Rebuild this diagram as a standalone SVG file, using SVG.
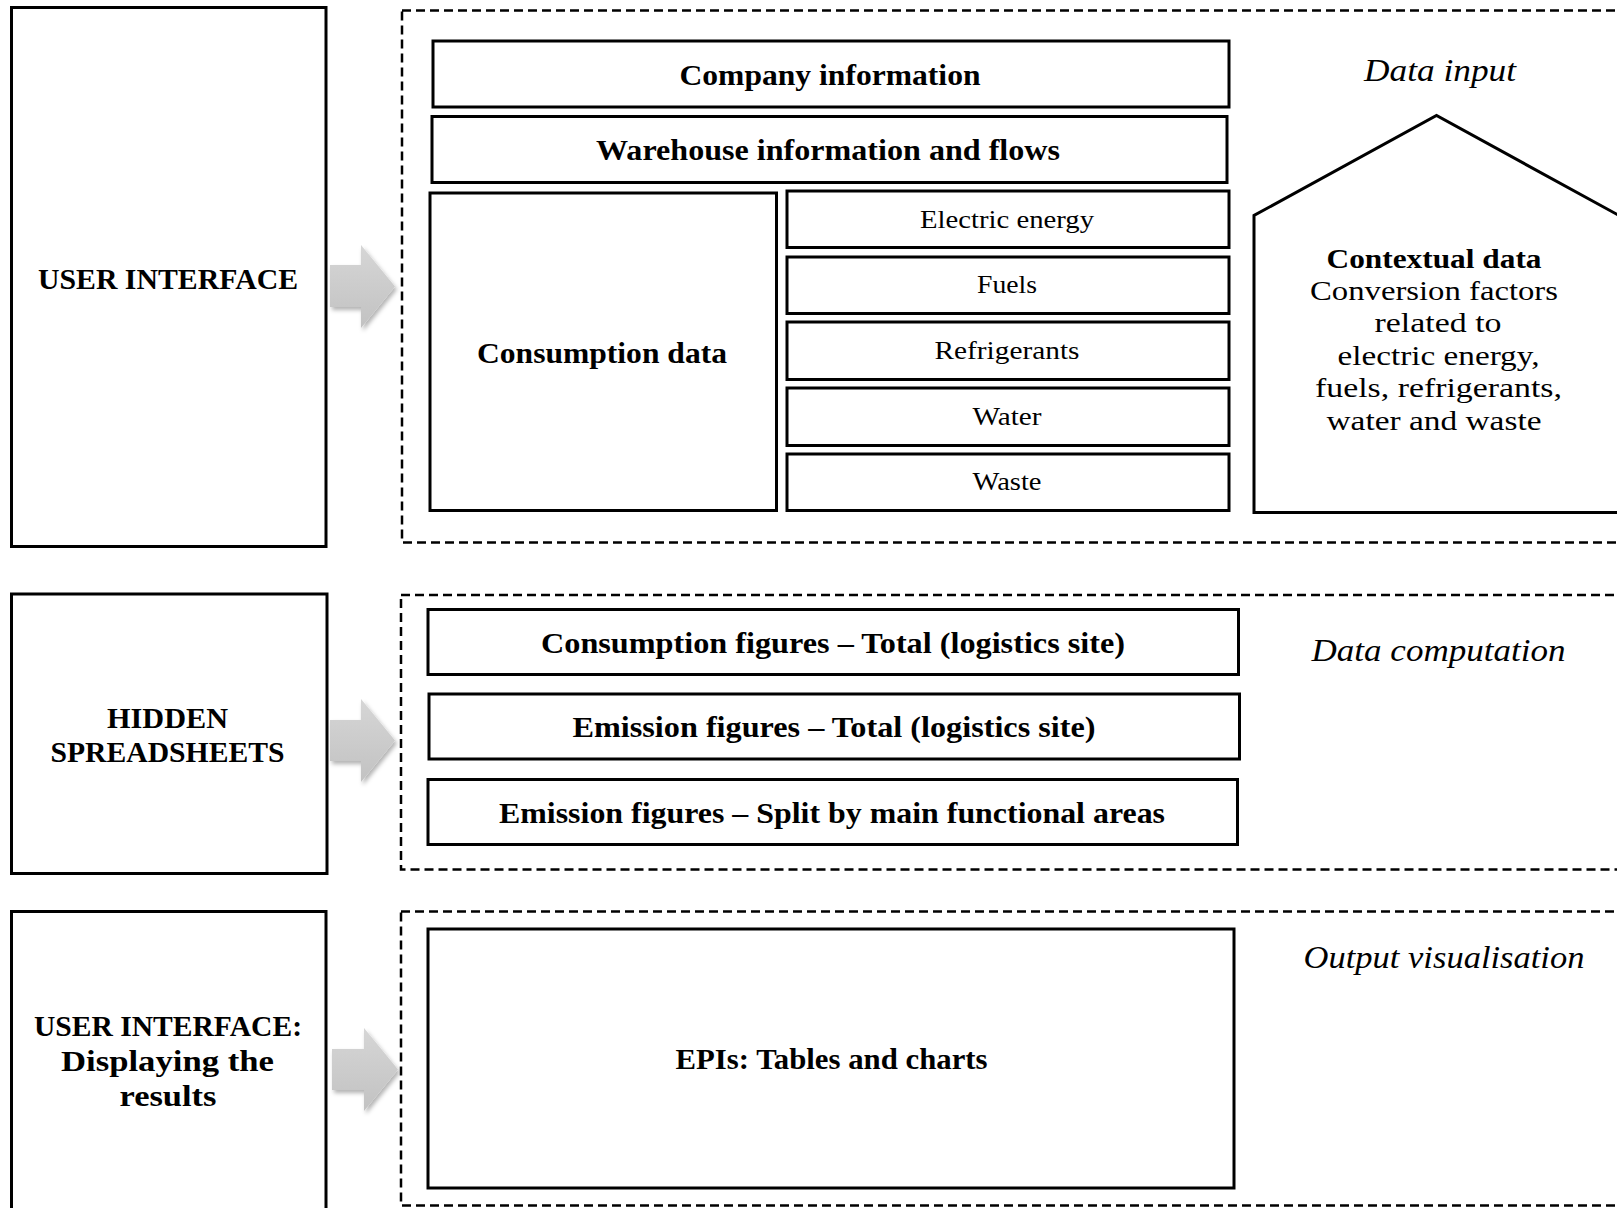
<svg xmlns="http://www.w3.org/2000/svg" width="1617" height="1208" viewBox="0 0 1617 1208">
<style>
.box{fill:#fff;stroke:#000;stroke-width:3}
.dash{fill:none;stroke:#000;stroke-width:2.5;stroke-dasharray:9 5}
.arr{fill:url(#ag);filter:url(#sh)}
text{font-family:"Liberation Serif","Times New Roman",serif;fill:#000;text-anchor:middle}
.lb{font-weight:bold;font-size:30px}
.tb{font-weight:bold;font-size:29px}
.tr{font-size:26px}
.cx{font-size:28px}
.it{font-style:italic;font-size:31px}
</style>
<defs>
<linearGradient id="ag" x1="0" y1="0" x2="0" y2="1">
<stop offset="0" stop-color="#d6d6d6"/>
<stop offset="1" stop-color="#c2c2c2"/>
</linearGradient>
<filter id="sh" x="-20%" y="-20%" width="150%" height="150%">
<feDropShadow dx="2" dy="3" stdDeviation="2" flood-color="#000" flood-opacity="0.3"/>
</filter>
</defs>

<g id="groups">
<rect id="input-area" class="dash" x="402" y="10.5" width="1230" height="532"/>
<rect id="computation-area" class="dash" x="401" y="595" width="1230" height="274.5"/>
<rect id="output-area" class="dash" x="401" y="911.5" width="1230" height="294"/>
</g>

<g id="connectors">
<path class="arr" d="M330,265 H361 V245 L395,286.5 L361,328 V307 H330 Z"/>
<path class="arr" d="M330,720 H361 V699 L395,740.5 L361,782 V761 H330 Z"/>
<path class="arr" d="M332,1049 H364 V1028 L398,1069.5 L364,1111 V1090 H332 Z"/>
</g>

<g id="ui-input">
<rect class="box" x="11.5" y="7.5" width="314.5" height="539"/>
<text class="lb" x="168" y="289" textLength="260" lengthAdjust="spacingAndGlyphs">USER INTERFACE</text>
</g>

<g id="company-info">
<rect class="box" x="433" y="41" width="796" height="66"/>
<text class="tb" x="830" y="85" textLength="301" lengthAdjust="spacingAndGlyphs">Company information</text>
</g>

<g id="warehouse-info">
<rect class="box" x="432" y="116.5" width="795" height="66"/>
<text class="tb" x="828" y="160" textLength="464" lengthAdjust="spacingAndGlyphs">Warehouse information and flows</text>
</g>

<g id="consumption-data">
<rect class="box" x="430" y="193" width="346.5" height="317.5"/>
<text class="tb" x="602" y="363" textLength="250" lengthAdjust="spacingAndGlyphs">Consumption data</text>
</g>

<g id="electric-energy">
<rect class="box" x="787" y="191" width="442" height="56.5"/>
<text class="tr" x="1007" y="228" textLength="174" lengthAdjust="spacingAndGlyphs">Electric energy</text>
</g>
<g id="fuels">
<rect class="box" x="787" y="257" width="442" height="56.5"/>
<text class="tr" x="1007" y="293" textLength="60" lengthAdjust="spacingAndGlyphs">Fuels</text>
</g>
<g id="refrigerants">
<rect class="box" x="787" y="322" width="442" height="57.5"/>
<text class="tr" x="1007" y="359" textLength="145" lengthAdjust="spacingAndGlyphs">Refrigerants</text>
</g>
<g id="water">
<rect class="box" x="787" y="388" width="442" height="57.5"/>
<text class="tr" x="1007" y="425" textLength="69" lengthAdjust="spacingAndGlyphs">Water</text>
</g>
<g id="waste">
<rect class="box" x="787" y="454" width="442" height="56.5"/>
<text class="tr" x="1007" y="490" textLength="69" lengthAdjust="spacingAndGlyphs">Waste</text>
</g>

<g id="data-input-label">
<text class="it" x="1440" y="81" textLength="152" lengthAdjust="spacingAndGlyphs">Data input</text>
</g>

<g id="contextual-data">
<path d="M1254,512.5 V215.5 L1436.5,115.5 L1619,215.5 V512.5 Z" fill="#fff" stroke="#000" stroke-width="3"/>
<text class="cx" font-weight="bold" x="1434" y="268" textLength="215" lengthAdjust="spacingAndGlyphs">Contextual data</text>
<text class="cx" x="1434" y="300" textLength="248" lengthAdjust="spacingAndGlyphs">Conversion factors</text>
<text class="cx" x="1438" y="332" textLength="127" lengthAdjust="spacingAndGlyphs">related to</text>
<text class="cx" x="1438.5" y="365" textLength="202" lengthAdjust="spacingAndGlyphs">electric energy,</text>
<text class="cx" x="1438.5" y="397" textLength="247" lengthAdjust="spacingAndGlyphs">fuels, refrigerants,</text>
<text class="cx" x="1434" y="430" textLength="215" lengthAdjust="spacingAndGlyphs">water and waste</text>
</g>

<g id="hidden-spreadsheets">
<rect class="box" x="11.5" y="594" width="315.5" height="279.5"/>
<text class="lb" x="167.5" y="728" textLength="121" lengthAdjust="spacingAndGlyphs">HIDDEN</text>
<text class="lb" x="167.5" y="762" textLength="234" lengthAdjust="spacingAndGlyphs">SPREADSHEETS</text>
</g>

<g id="consumption-figures">
<rect class="box" x="428" y="609.5" width="810.5" height="65"/>
<text class="tb" x="833" y="653" textLength="584" lengthAdjust="spacingAndGlyphs">Consumption figures – Total (logistics site)</text>
</g>
<g id="emission-total">
<rect class="box" x="429" y="694" width="810.5" height="65"/>
<text class="tb" x="834" y="737" textLength="523" lengthAdjust="spacingAndGlyphs">Emission figures – Total (logistics site)</text>
</g>
<g id="emission-split">
<rect class="box" x="428" y="779.5" width="809.5" height="65"/>
<text class="tb" x="832" y="823" textLength="666" lengthAdjust="spacingAndGlyphs">Emission figures – Split by main functional areas</text>
</g>

<g id="data-computation-label">
<text class="it" x="1438.5" y="661" textLength="254" lengthAdjust="spacingAndGlyphs">Data computation</text>
</g>

<g id="ui-results">
<rect class="box" x="11.5" y="911.5" width="314.5" height="310"/>
<text class="lb" x="168" y="1036" textLength="268" lengthAdjust="spacingAndGlyphs">USER INTERFACE:</text>
<text class="lb" x="167.5" y="1071" textLength="213" lengthAdjust="spacingAndGlyphs">Displaying  the</text>
<text class="lb" x="168" y="1106" textLength="97" lengthAdjust="spacingAndGlyphs">results</text>
</g>

<g id="epis">
<rect class="box" x="428" y="929" width="806" height="259"/>
<text class="tb" x="831.5" y="1069" textLength="312" lengthAdjust="spacingAndGlyphs">EPIs: Tables and charts</text>
</g>

<g id="output-label">
<text class="it" x="1444" y="968" textLength="281" lengthAdjust="spacingAndGlyphs">Output visualisation</text>
</g>
</svg>
